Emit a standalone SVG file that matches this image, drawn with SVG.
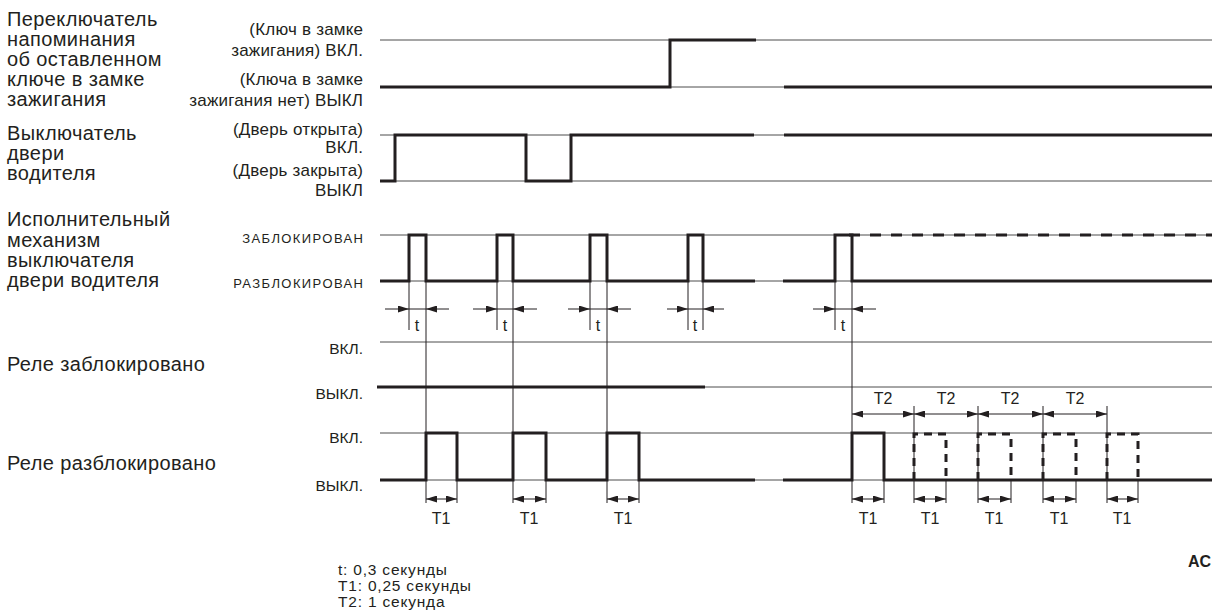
<svg xmlns="http://www.w3.org/2000/svg" width="1212" height="612" viewBox="0 0 1212 612">
<defs>
<style>
text{font-family:"Liberation Sans",Arial,sans-serif;fill:#231f20}
.lbl{font-size:20px;letter-spacing:0.4px}
.mid{font-size:17px;letter-spacing:0.2px;text-anchor:end}
.cap{font-size:13px;letter-spacing:1.4px;text-anchor:end}
.st{font-size:15.5px;text-anchor:end}
.dim{font-size:16px;text-anchor:middle}
.leg{font-size:15.5px;letter-spacing:0.8px}
.thin{fill:none;stroke:#4d4d4d;stroke-width:1}
.thick{fill:none;stroke:#231f20;stroke-width:3;stroke-linejoin:miter;stroke-linecap:butt}
.dash{fill:none;stroke:#231f20;stroke-width:3;stroke-dasharray:11 10}
.dashp{fill:none;stroke:#231f20;stroke-width:3;stroke-dasharray:8 6}
.ext{fill:none;stroke:#231f20;stroke-width:1}
.arr{fill:none;stroke:#231f20;stroke-width:1;marker-end:url(#ah)}
.arr2{fill:none;stroke:#231f20;stroke-width:1;marker-start:url(#ah);marker-end:url(#ah)}
</style>
<marker id="ah" viewBox="0 0 11 7" refX="11" refY="3.5" markerWidth="11" markerHeight="7" markerUnits="userSpaceOnUse" orient="auto-start-reverse"><path d="M0,0 L11,3.5 L0,7 z" fill="#231f20"/></marker>
</defs>
<rect width="1212" height="612" fill="#fff"/>

<g id="key-switch">
<text class="lbl" x="7" y="26">Переключатель</text>
<text class="lbl" x="7" y="46">напоминания</text>
<text class="lbl" x="7" y="66">об оставленном</text>
<text class="lbl" x="7" y="86">ключе в замке</text>
<text class="lbl" x="7" y="106">зажигания</text>
<text class="mid" x="363.2" y="35">(Ключ в замке</text>
<text class="mid" x="363.2" y="56">зажигания) ВКЛ.</text>
<text class="mid" x="363.2" y="85">(Ключа в замке</text>
<text class="mid" x="363.2" y="106">зажигания нет) ВЫКЛ</text>
<path class="thin" d="M380 40H1212M380 87H1212"/>
<path class="thick" d="M380 87H670V40H756M784 87H1212"/>
</g>

<g id="door-switch">
<text class="lbl" x="7" y="140">Выключатель</text>
<text class="lbl" x="7" y="160">двери</text>
<text class="lbl" x="7" y="180">водителя</text>
<text class="mid" x="363.2" y="135">(Дверь открыта)</text>
<text class="mid" x="363.2" y="153">ВКЛ.</text>
<text class="mid" x="363.2" y="176">(Дверь закрыта)</text>
<text class="mid" x="363.2" y="196">ВЫКЛ</text>
<path class="thin" d="M380 135H1212M380 181H1212"/>
<path class="thick" d="M380 181H395V135H526V181H571V135H754M784 135H1212"/>
</g>

<g id="actuator">
<text class="lbl" x="7" y="226">Исполнительный</text>
<text class="lbl" x="7" y="247">механизм</text>
<text class="lbl" x="7" y="267">выключателя</text>
<text class="lbl" x="7" y="287">двери водителя</text>
<text class="cap" x="364.4" y="243">ЗАБЛОКИРОВАН</text>
<text class="cap" x="364.4" y="288">РАЗБЛОКИРОВАН</text>
<path class="thin" d="M380 235H1212M380 281H1212"/>
<path class="thick" d="M380 281H409V235H426V281H497V235H513V281H590V235H607V281H688V235H703V281H755M783 281H835V235H852V281H1212"/>
<path class="dash" d="M849 235H1212"/>
</g>

<g id="relay-lock">
<text class="lbl" x="7" y="371">Реле заблокировано</text>
<text class="st" x="363" y="354">ВКЛ.</text>
<text class="st" x="363" y="399">ВЫКЛ.</text>
<path class="thin" d="M380 342H1212M380 387H1212"/>
<path class="thick" d="M377 387H705"/>
</g>

<g id="relay-unlock">
<text class="lbl" x="7" y="470">Реле разблокировано</text>
<text class="st" x="363" y="443">ВКЛ.</text>
<text class="st" x="363" y="491">ВЫКЛ.</text>
<path class="thin" d="M380 433H1212M380 480H1212"/>
<path class="ext" d="M914 406V503M978 406V503M1043 406V503M1107 406V503"/>
<path class="thick" d="M380 480H426V433H457V480H513V433H546V480H607V433H639V480H755M783 480H852V433H884V480H1212"/>
<path class="dashp" d="M914 480V434H946V480M978 480V434H1011V480M1043 480V434H1076V480M1107 480V434H1138V480"/>
</g>

<g id="connectors">
<path class="ext" d="M409 281V330M426 281V503M497 281V330M513 281V503M590 281V330M607 281V503M688 281V330M703 281V330M835 281V330M852 281V503"/>
<path class="ext" d="M457 480V503M546 480V503M639 480V503M884 480V503M946 480V503M1011 480V503M1076 480V503M1138 480V503"/>
<path class="ext" d="M409 309H426M497 309H513M590 309H607M688 309H703M835 309H852"/>
<path class="arr" d="M385 309H409"/><path class="arr" d="M449 309H426"/>
<path class="arr" d="M473 309H497"/><path class="arr" d="M537 309H513"/>
<path class="arr" d="M568 309H590"/><path class="arr" d="M631 309H607"/>
<path class="arr" d="M667 309H688"/><path class="arr" d="M724 309H703"/>
<path class="arr" d="M813 309H835"/><path class="arr" d="M876 309H852"/>
<path class="arr2" d="M426 499H457"/><path class="arr2" d="M513 499H546"/><path class="arr2" d="M607 499H639"/>
<path class="arr2" d="M852 499H884"/><path class="arr2" d="M914 499H946"/><path class="arr2" d="M978 499H1011"/>
<path class="arr2" d="M1043 499H1076"/><path class="arr2" d="M1107 499H1138"/>
<path class="arr2" d="M852 414H914"/><path class="arr2" d="M914 414H978"/><path class="arr2" d="M978 414H1043"/><path class="arr2" d="M1043 414H1107"/>
<text class="dim" x="417" y="331">t</text>
<text class="dim" x="505" y="331">t</text>
<text class="dim" x="598" y="331">t</text>
<text class="dim" x="695" y="331">t</text>
<text class="dim" x="843" y="331">t</text>
<text class="dim" x="883" y="404">T2</text>
<text class="dim" x="946" y="404">T2</text>
<text class="dim" x="1010" y="404">T2</text>
<text class="dim" x="1075" y="404">T2</text>
<text class="dim" x="441" y="524">T1</text>
<text class="dim" x="529" y="524">T1</text>
<text class="dim" x="623" y="524">T1</text>
<text class="dim" x="868" y="524">T1</text>
<text class="dim" x="930" y="524">T1</text>
<text class="dim" x="994" y="524">T1</text>
<text class="dim" x="1059" y="524">T1</text>
<text class="dim" x="1122" y="524">T1</text>
</g>

<g id="legend">
<text class="leg" x="338" y="575">t: 0,3 секунды</text>
<text class="leg" x="338" y="591">T1: 0,25 секунды</text>
<text class="leg" x="338" y="607">T2: 1 секунда</text>
<text x="1188" y="567" style="font-size:16px;font-weight:bold">AC</text>
</g>
</svg>
